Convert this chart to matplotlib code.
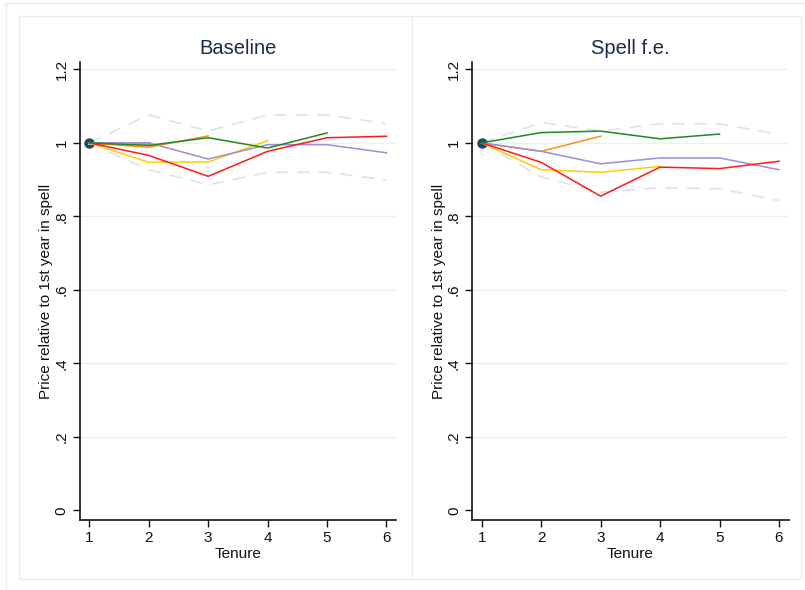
#!/usr/bin/env python3
"""Price path over tenure in a spell: baseline vs spell fixed effects"""

import matplotlib
matplotlib.use('Agg')
import matplotlib.pyplot as plt
from matplotlib.patches import Rectangle
from matplotlib.lines import Line2D

plt.rcParams['font.family'] = ['Liberation Sans', 'DejaVu Sans']

tenure = [1, 2, 3, 4, 5, 6]

# Baseline panel
base_green  = [1.0, 0.993, 1.014, 0.986, 1.027]
base_orange = [1.0, 0.988, 1.019]
base_red    = [1.0, 0.966, 0.909, 0.977, 1.014, 1.018]
base_yellow = [1.0, 0.947, 0.948, 1.006]
base_purple = [1.0, 1.0, 0.956, 0.995, 0.995, 0.973]
base_gray   = [1.0, 1.0]
base_hi     = [1.0, 1.076, 1.032, 1.076, 1.076, 1.052]
base_lo     = [1.0, 0.927, 0.886, 0.920, 0.920, 0.899]

# Spell f.e. panel
fe_green  = [1.0, 1.028, 1.032, 1.011, 1.024]
fe_orange = [1.0, 0.977, 1.018]
fe_red    = [1.0, 0.947, 0.855, 0.934, 0.930, 0.950]
fe_yellow = [1.0, 0.927, 0.920, 0.936]
fe_purple = [1.0, 0.977, 0.943, 0.959, 0.959, 0.927]
fe_hi     = [1.0, 1.055, 1.032, 1.052, 1.052, 1.023]
fe_lo     = [1.0, 0.907, 0.866, 0.878, 0.875, 0.843]

yticks = [0, 0.2, 0.4, 0.6, 0.8, 1.0, 1.2]
ytick_labels = ['0', '.2', '.4', '.6', '.8', '1', '1.2']

GREEN  = '#1e8a1e'
ORANGE = '#ff8c1a'
RED    = '#ff1a1a'
YELLOW = '#ffcc00'
PURPLE = '#9a8fd8'
GRAY   = '#b0b0b0'
CI     = '#e2e2f2'
NAVY   = '#1a476f'
FRAME  = '#e6eef1'
GRID   = '#eaf2f3'
TEXT   = '#111111'


def draw_panel(ax, title, series, hi, lo):
    ax.set_xlim(0.837, 6.16)
    ax.set_ylim(-0.026, 1.22)
    for y in yticks[1:]:
        ax.axhline(y, color=GRID, linewidth=1.0, zorder=0)
    ax.plot(tenure[:len(hi)], hi, color=CI, linewidth=1.3, dashes=(7, 5), zorder=1)
    ax.plot(tenure[:len(lo)], lo, color=CI, linewidth=1.3, dashes=(7, 5), zorder=1)
    ax.plot([1], [1.0], 'o', color=NAVY, markersize=6.5, zorder=2)
    for vals, color, lw in series:
        ax.plot(tenure[:len(vals)], vals, color=color, linewidth=lw, zorder=3)
    ax.set_xticks(tenure)
    ax.set_xticklabels([str(t) for t in tenure], fontsize=11, color=TEXT)
    ax.set_yticks(yticks)
    ax.set_yticklabels(ytick_labels, fontsize=11, color=TEXT, rotation=90, va='center')
    ax.tick_params(axis='both', length=5, width=1.0, color=TEXT, pad=3)
    ax.set_xlabel('Tenure', fontsize=11, color=TEXT, labelpad=1)
    ax.set_ylabel('Price relative to 1st year in spell', fontsize=11, color=TEXT, labelpad=1)
    ax.set_title(title, fontsize=14.5, color='#1a2a4a', pad=6)
    for side in ['top', 'right']:
        ax.spines[side].set_visible(False)
    for side in ['left', 'bottom']:
        ax.spines[side].set_linewidth(1.2)
        ax.spines[side].set_color(TEXT)
    ax.set_facecolor('none')


fig = plt.figure(figsize=(8.05, 5.9), dpi=100)
fig.patch.set_facecolor('white')

W, H = 805.0, 590.0
# outer frame and inner boxes
fig.add_artist(Line2D([6 / W, 1], [1 - 3 / H, 1 - 3 / H], color=FRAME, linewidth=1.0))
fig.add_artist(Line2D([6 / W, 6 / W], [0, 1 - 3 / H], color=FRAME, linewidth=1.0))
fig.add_artist(Rectangle((19 / W, 1 - 579 / H), (801 - 19) / W, (579 - 16) / H,
                         fill=False, edgecolor=FRAME, linewidth=1.0))
fig.add_artist(Line2D([412 / W, 412 / W], [1 - 579 / H, 1 - 16 / H], color=FRAME, linewidth=1.0))

ax1 = fig.add_axes([79.6 / W, 70 / H, 316.4 / W, 458 / H])
ax2 = fig.add_axes([472 / W, 70 / H, 316.5 / W, 458 / H])

draw_panel(ax1, 'Baseline',
           [(base_gray, GRAY, 2.2), (base_orange, ORANGE, 1.1), (base_yellow, YELLOW, 1.1),
            (base_purple, PURPLE, 1.1), (base_red, RED, 1.1), (base_green, GREEN, 1.1)],
           base_hi, base_lo)
draw_panel(ax2, 'Spell f.e.',
           [(fe_orange, ORANGE, 1.1), (fe_yellow, YELLOW, 1.1), (fe_purple, PURPLE, 1.1),
            (fe_red, RED, 1.1), (fe_green, GREEN, 1.1)],
           fe_hi, fe_lo)

fig.savefig('out.png', dpi=100, facecolor='white')
